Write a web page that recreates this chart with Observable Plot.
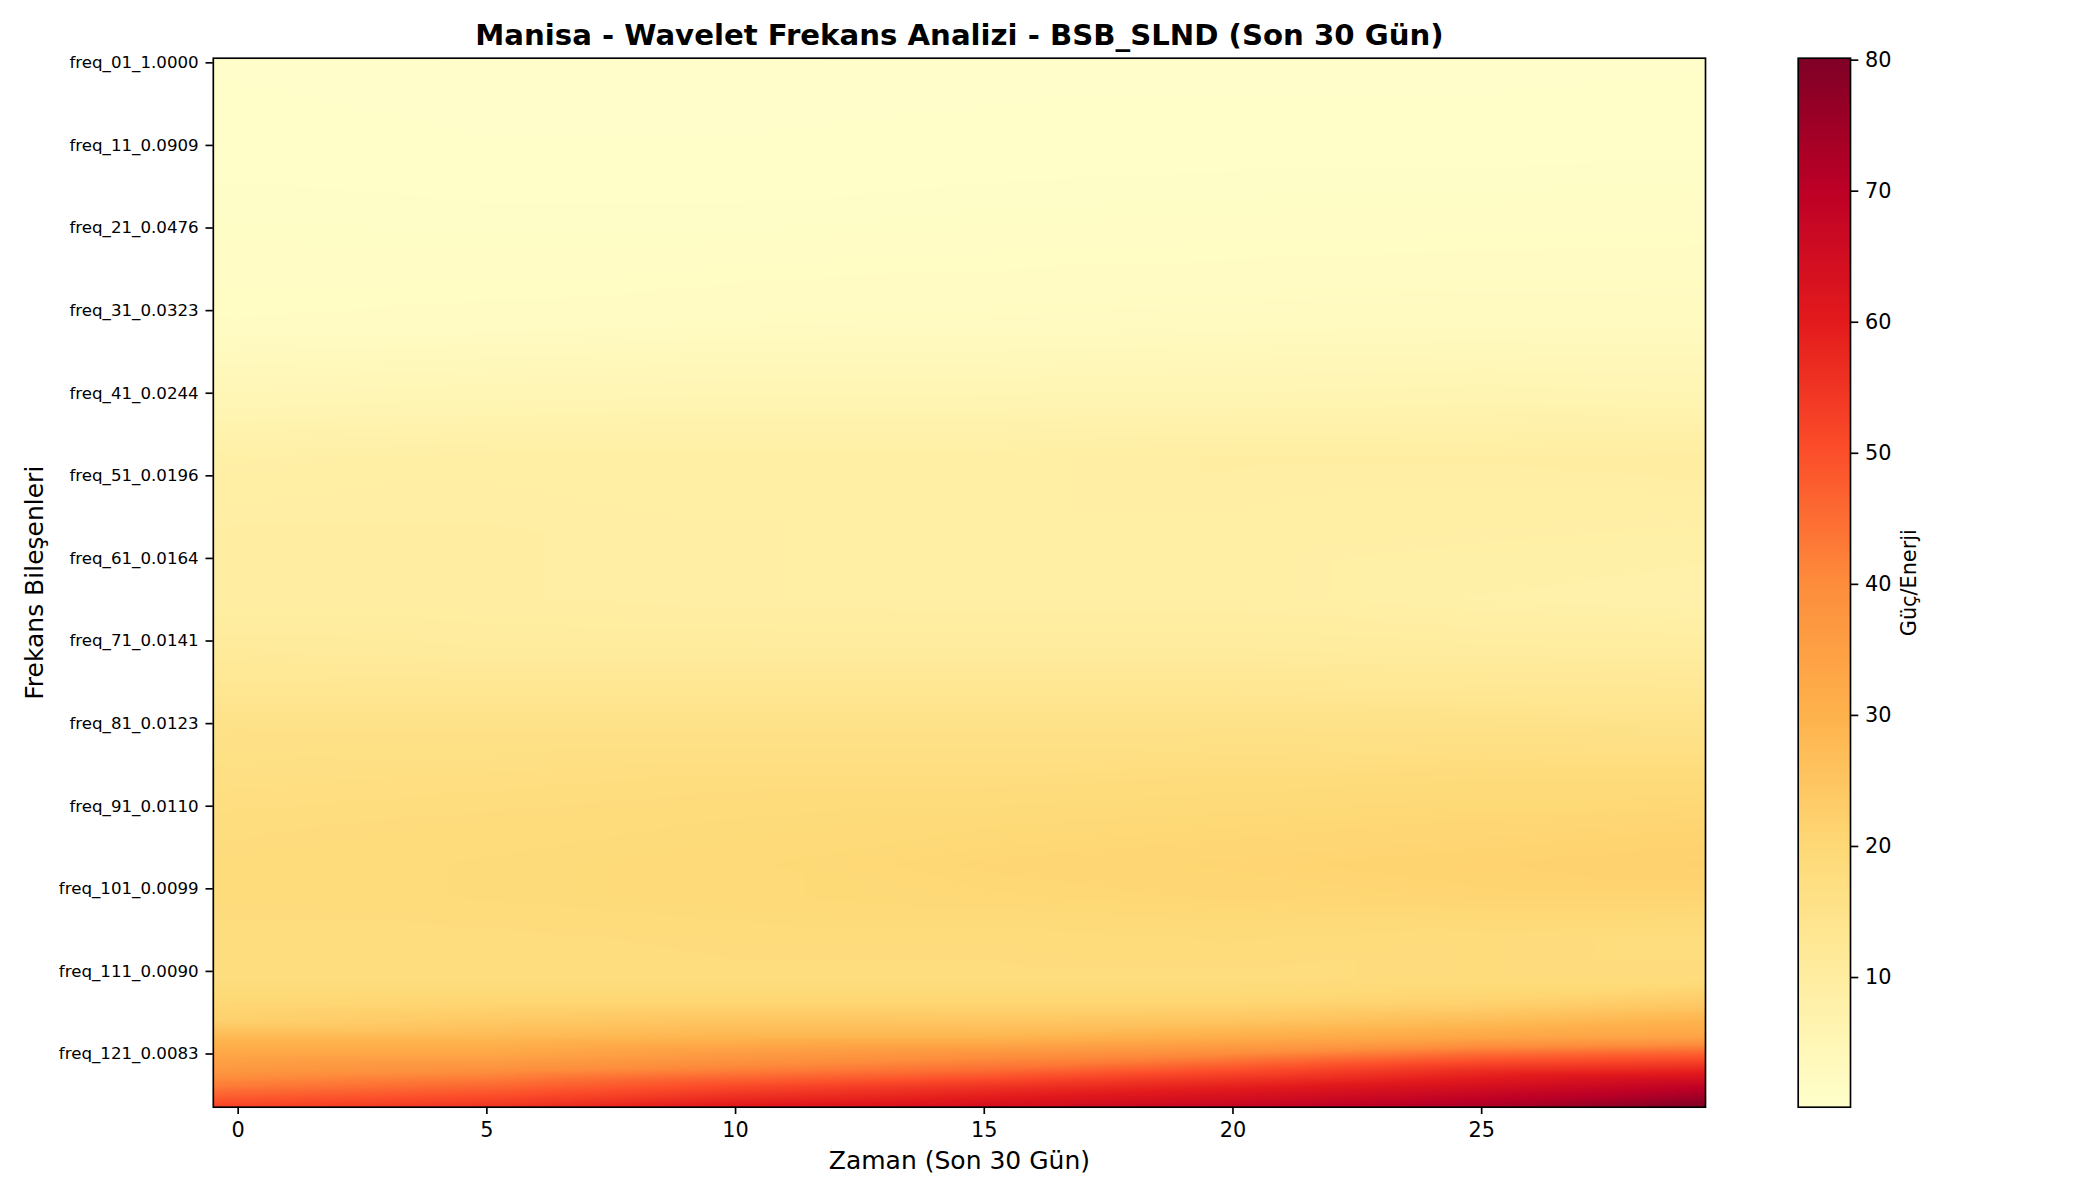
<!DOCTYPE html>
<html>
<head>
<meta charset="utf-8">
<script src="https://cdn.jsdelivr.net/npm/d3@7"></script>
<script src="https://cdn.jsdelivr.net/npm/@observablehq/plot@0.6"></script>
<style>
  html, body { margin: 0; padding: 0; background: #fff; }
  #chart { position: relative; width: 2100px; height: 1200px; overflow: hidden; font-family: "DejaVu Sans", sans-serif; }
  #chart svg { position: absolute; top: 0; background: transparent; }
</style>
</head>
<body>
<div id="chart"></div>
<script>
const titleText = "Manisa - Wavelet Frekans Analizi - BSB_SLND (Son 30 Gün)";
const xLabel = "Zaman (Son 30 Gün)";
const yLabel = "Frekans Bileşenleri";
const colorLabel = "Güç/Enerji";
const xTicks = [0, 5, 10, 15, 20, 25];
const yTickRows = [0, 10, 20, 30, 40, 50, 60, 70, 80, 90, 100, 110, 120];
const yTickLabels = ["freq_01_1.0000","freq_11_0.0909","freq_21_0.0476","freq_31_0.0323","freq_41_0.0244","freq_51_0.0196","freq_61_0.0164","freq_71_0.0141","freq_81_0.0123","freq_91_0.0110","freq_101_0.0099","freq_111_0.0090","freq_121_0.0083"];
const colorTicks = [10, 20, 30, 40, 50, 60, 70, 80];
const colorStops = [0, 10, 20, 30, 40, 50, 60, 70, 80];
const colorRamp = ["#ffffcc","#ffeda0","#fed976","#feb24c","#fd8d3c","#fc4e2a","#e31a1c","#bd0026","#800026"];

const timePoints = [-0.5, 5, 10, 15, 20, 25, 29.5];
const rowPoints = [-0.5, 10, 20, 32, 41, 48, 57, 65, 72, 80, 87, 92, 97, 101, 106, 111, 114, 116, 118, 120, 122, 124, 126.5];
const power = [
  [0.5, 0.3, 0.3, 0.4, 0.4, 0.4, 0.5],
  [0.8, 0.6, 0.6, 0.7, 0.8, 0.8, 0.9],
  [1.3, 1.2, 1.2, 1.4, 1.5, 1.6, 1.7],
  [2.0, 2.2, 2.5, 2.6, 2.8, 3.0, 3.0],
  [5.2, 5.6, 5.8, 5.8, 6.0, 6.2, 6.0],
  [8.5, 9.0, 9.0, 9.0, 9.5, 9.5, 9.8],
  [9.5, 9.5, 9.2, 9.0, 9.0, 8.7, 8.5],
  [9.5, 9.5, 9.2, 9.0, 9.0, 8.0, 7.5],
  [11.5, 11.0, 11.0, 11.0, 11.0, 10.7, 10.5],
  [15.5, 15.5, 15.5, 15.5, 15.5, 15.3, 15.0],
  [17.0, 17.5, 18.0, 18.0, 18.5, 19.0, 19.0],
  [18.0, 18.5, 19.0, 19.5, 20.0, 20.5, 21.0],
  [18.5, 19.0, 19.5, 20.5, 21.0, 21.5, 22.0],
  [18.5, 19.0, 19.5, 20.0, 20.5, 21.0, 21.0],
  [18.0, 18.0, 18.5, 18.5, 19.0, 18.5, 18.0],
  [18.0, 18.0, 18.0, 18.0, 18.0, 18.5, 18.5],
  [20.5, 21.0, 21.0, 21.0, 21.0, 22.0, 24.0],
  [22.0, 24.0, 25.0, 24.5, 25.0, 27.0, 29.5],
  [28.0, 28.0, 29.0, 29.0, 31.0, 33.0, 34.0],
  [33.0, 33.0, 36.0, 38.0, 40.0, 45.0, 47.0],
  [37.0, 39.0, 42.0, 45.0, 50.0, 56.0, 58.0],
  [43.0, 46.0, 51.0, 55.0, 59.0, 64.0, 69.0],
  [52.0, 55.0, 61.0, 64.0, 68.0, 73.0, 80.0]
];

const samples = rowPoints.flatMap((row, i) => timePoints.map((t, j) => ({t, row, value: power[i][j]})));
const color = {type: "linear", domain: colorStops, range: colorRamp};
const black = "#000";

const main = Plot.plot({
  width: 1760, height: 1200,
  marginLeft: 212.8, marginRight: 55, marginTop: 57.7, marginBottom: 93.3,
  style: {fontFamily: "DejaVu Sans, sans-serif", background: "transparent", overflow: "visible", color: black},
  x: {domain: [-0.5, 29.5], axis: null},
  y: {domain: [126.5, -0.5], axis: null},
  color,
  marks: [
    Plot.raster(samples, {x: "t", y: "row", fill: "value", interpolate: "barycentric", pixelSize: 1}),
    Plot.frame({stroke: black, strokeWidth: 1.67}),
    Plot.axisX({anchor: "bottom", ticks: xTicks, tickFormat: d => String(d), tickSize: 7.3, tickPadding: 7.3, fontSize: 20.8, strokeWidth: 1.67, label: null}),
    Plot.axisY({anchor: "left", ticks: yTickRows, tickFormat: d => yTickLabels[yTickRows.indexOf(d)], tickSize: 7.3, tickPadding: 7.3, fontSize: 16.67, strokeWidth: 1.67, dy: 0.5, label: null}),
    Plot.text([titleText], {text: d => d, frameAnchor: "top", dy: -34, fontSize: 29.2, fontWeight: "bold", fill: black}),
    Plot.text([xLabel], {text: d => d, frameAnchor: "bottom", dy: 62, fontSize: 25, fill: black}),
    Plot.text([yLabel], {text: d => d, frameAnchor: "left", textAnchor: "middle", dx: -178, rotate: -90, fontSize: 25, fill: black})
  ]
});
main.style.left = "0px";

const bar = Plot.plot({
  width: 340, height: 1200,
  marginLeft: 37.7, marginRight: 250, marginTop: 57.7, marginBottom: 93.3,
  style: {fontFamily: "DejaVu Sans, sans-serif", background: "transparent", overflow: "visible", color: black},
  x: {domain: [0, 1], axis: null},
  y: {domain: [0.03, 80.07], axis: null},
  color,
  marks: [
    Plot.raster({fill: (x, y) => y, x1: 0, x2: 1, y1: 0.03, y2: 80.07, width: 1, height: 524}),
    Plot.frame({stroke: black, strokeWidth: 1.67}),
    Plot.axisY({anchor: "right", ticks: colorTicks, tickSize: 7.3, tickPadding: 7.3, fontSize: 20.8, strokeWidth: 1.67, dy: 1, label: null}),
    Plot.text([colorLabel], {text: d => d, frameAnchor: "right", textAnchor: "middle", dx: 58.5, rotate: -90, fontSize: 20.8, fill: black})
  ]
});
bar.style.left = "1760px";

document.getElementById("chart").append(main, bar);
</script>
</body>
</html>
